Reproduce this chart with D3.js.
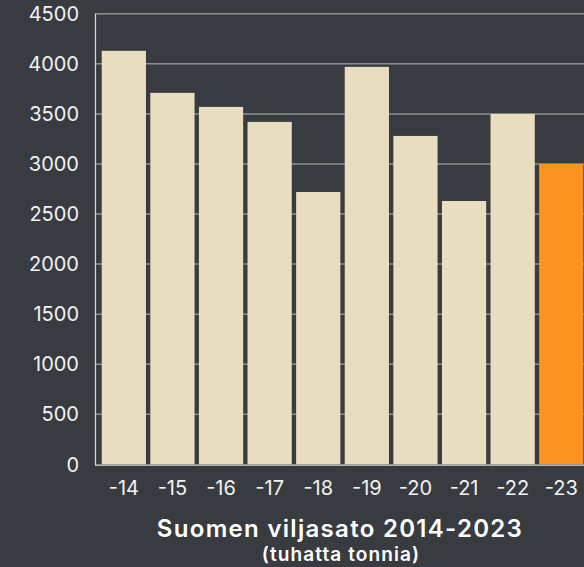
<!DOCTYPE html>
<html lang="fi">
<head>
  <meta charset="UTF-8">
  <title>Suomen viljasato</title>
  <style>
    html, body { margin: 0; padding: 0; background: #383c40; }
    svg { display: block; }
  </style>
</head>
<body>
  <script src="https://cdn.jsdelivr.net/npm/d3@7"></script>
  <script>
    // vuodet ja sato (tuhatta tonnia)
    var years = ["-14", "-15", "-16", "-17", "-18", "-19", "-20", "-21", "-22", "-23"];
    var harvest = [4130, 3710, 3570, 3420, 2720, 3970, 3280, 2630, 3500, 3000];
    var yTicks = [0, 500, 1000, 1500, 2000, 2500, 3000, 3500, 4000, 4500];

    var width = 584, height = 567;
    var svg = d3.select("body").append("svg")
      .attr("width", width)
      .attr("height", height);

    var x = d3.scaleBand()
      .domain(years)
      .range([95.4, 589.7])
      .paddingInner(0.09)
      .paddingOuter(0.13);

    var y = d3.scaleLinear()
      .domain([0, 4500])
      .range([464.3, 13.8]);

    var font = "Inter, 'Open Sans', sans-serif";

    // vaakaviivat
    svg.append("g").selectAll("line")
      .data(yTicks.slice(1))
      .enter().append("line")
      .attr("x1", 95).attr("x2", width)
      .attr("y1", function(d){ return y(d); })
      .attr("y2", function(d){ return y(d); })
      .attr("stroke", "#8c8f92")
      .attr("stroke-width", 1.5);

    // y-akselin tekstit
    svg.append("g").selectAll("text")
      .data(yTicks)
      .enter().append("text")
      .attr("x", 79)
      .attr("y", function(d){ return y(d); })
      .attr("dy", "0.36em")
      .attr("text-anchor", "end")
      .attr("fill", "#f2f2f2")
      .attr("font-family", font)
      .attr("font-size", "20px")
      .text(function(d){ return d; });

    // pylväät
    svg.append("g").selectAll("rect")
      .data(harvest)
      .enter().append("rect")
      .attr("x", function(d, i){ return x(years[i]); })
      .attr("y", function(d){ return y(d); })
      .attr("width", x.bandwidth())
      .attr("height", function(d){ return y(0) - y(d); })
      .attr("fill", function(d, i){ return i === years.length - 1 ? "#fa9320" : "#e8ddbf"; });

    // akselit
    svg.append("line")
      .attr("x1", 95.5).attr("x2", 95.5)
      .attr("y1", y(4500)).attr("y2", y(0) + 1)
      .attr("stroke", "#d8d8d8").attr("stroke-width", 1.2);
    svg.append("line")
      .attr("x1", 95).attr("x2", width)
      .attr("y1", y(0) + 0.8).attr("y2", y(0) + 0.8)
      .attr("stroke", "#d8d8d8").attr("stroke-width", 1.2);

    // x-akselin tekstit
    svg.append("g").selectAll("text")
      .data(years)
      .enter().append("text")
      .attr("x", function(d){ return x(d) + x.bandwidth() / 2; })
      .attr("y", 495)
      .attr("text-anchor", "middle")
      .attr("fill", "#f2f2f2")
      .attr("font-family", font)
      .attr("font-size", "20px")
      .text(function(d){ return d; });

    // otsikko
    svg.append("text")
      .attr("x", 340).attr("y", 537)
      .attr("text-anchor", "middle")
      .attr("fill", "#ffffff")
      .attr("font-family", font)
      .attr("font-weight", "600")
      .attr("font-size", "24px")
      .attr("letter-spacing", "1.3px")
      .text("Suomen viljasato 2014-2023");
    svg.append("text")
      .attr("x", 341).attr("y", 561)
      .attr("text-anchor", "middle")
      .attr("fill", "#ffffff")
      .attr("font-family", font)
      .attr("font-weight", "600")
      .attr("font-size", "19px")
      .attr("letter-spacing", "1.1px")
      .text("(tuhatta tonnia)");
  </script>
</body>
</html>
